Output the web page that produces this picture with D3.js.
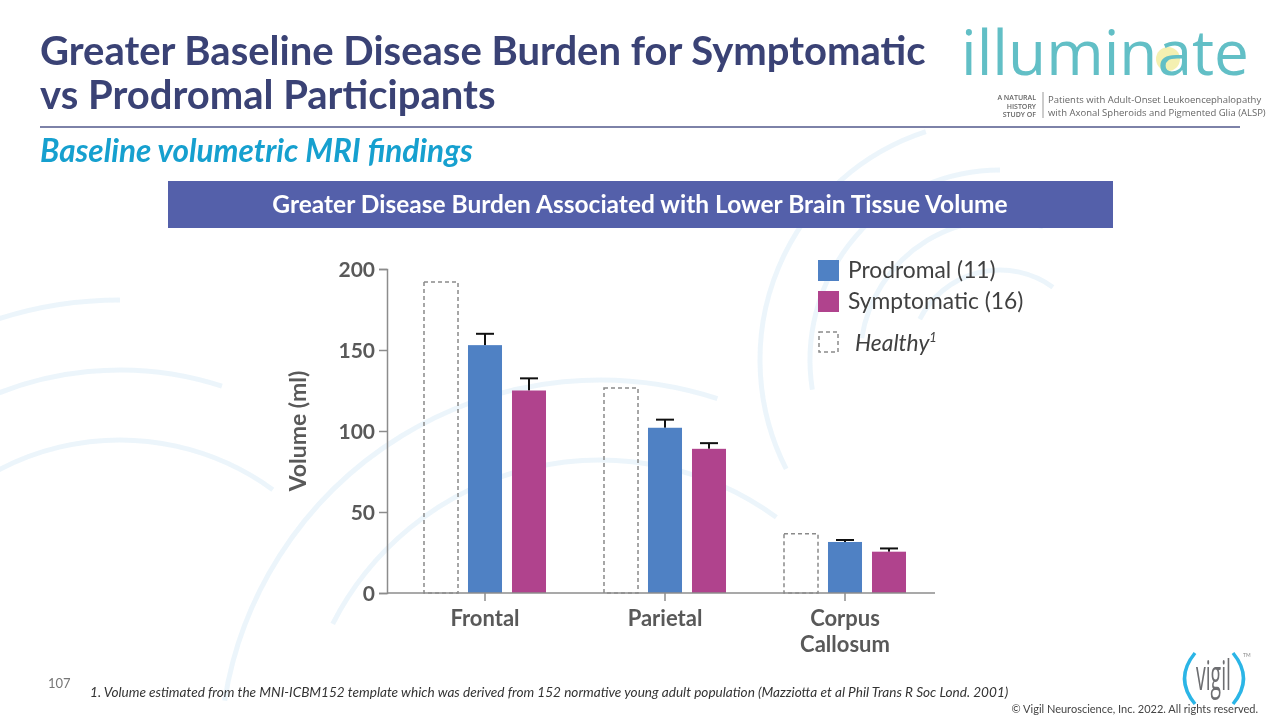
<!DOCTYPE html>
<html>
<head>
<meta charset="utf-8">
<script src="https://cdn.jsdelivr.net/npm/d3@7"></script>
<style>
  html, body { margin: 0; padding: 0; background: #fff; }
  svg { display: block; }
</style>
</head>
<body>
<svg id="chart" width="1280" height="720"></svg>
<script>
// ---------------- DATA ----------------
const categories = ["Frontal", "Parietal", "Corpus Callosum"];
const categoryLines = [["Frontal"], ["Parietal"], ["Corpus", "Callosum"]];
const healthyValues = [192, 126.5, 36.5];
const prodromalValues = [153, 102, 31.5];
const prodromalErrTop = [160, 107, 32.7];
const symptomaticValues = [125, 89, 25.5];
const symptomaticErrTop = [132.5, 92.5, 27.5];
const yTicks = [0, 50, 100, 150, 200];
const seriesKeys = ["Healthy", "Prodromal", "Symptomatic"];
const legendLabels = ["Prodromal (11)", "Symptomatic (16)", "Healthy"];

// ---------------- STYLE ----------------
const blue = "#4f81c4", magenta = "#b0438d", dashGray = "#8a8a8a";
const axisGray = "#8c8c8c", labelGray = "#595959";
const font = "Lato, 'Open Sans', 'Liberation Sans', sans-serif";

const svg = d3.select("#chart");

// faint decorative background arcs
const bg = svg.append("g").attr("fill", "none").attr("stroke", "#e8f3fa").attr("stroke-width", 5).attr("opacity", 0.8);
[[1000, 360, [90, 140, 190, 240]], [120, 700, [260, 330, 400]], [600, 760, [300, 380]]].forEach(([cx, cy, rs]) => {
  rs.forEach((r, i) => {
    const a0 = -Math.PI * (0.35 + 0.1 * i), a1 = a0 + Math.PI * 0.55;
    bg.append("path").attr("transform", `translate(${cx},${cy})`)
      .attr("d", d3.arc()({innerRadius: r, outerRadius: r, startAngle: a0, endAngle: a1}));
  });
});

// ---------------- HEADER ----------------
svg.append("text").attr("x", 40).attr("y", 65).attr("font-family", font).attr("font-weight", 700)
  .attr("font-size", 40).attr("fill", "#3a4275").text("Greater Baseline Disease Burden for Symptomatic");
svg.append("text").attr("x", 40).attr("y", 109).attr("font-family", font).attr("font-weight", 700)
  .attr("font-size", 40).attr("fill", "#3a4275").text("vs Prodromal Participants");
svg.append("line").attr("x1", 40).attr("x2", 1240).attr("y1", 127).attr("y2", 127)
  .attr("stroke", "#7d82a8").attr("stroke-width", 2);
svg.append("text").attr("x", 40).attr("y", 162).attr("font-family", font).attr("font-weight", 700)
  .attr("font-style", "italic").attr("font-size", 31.5).attr("fill", "#16a0cf").text("Baseline volumetric MRI findings");

// banner
svg.append("rect").attr("x", 168).attr("y", 181).attr("width", 945).attr("height", 47).attr("fill", "#5460aa");
svg.append("text").attr("x", 640).attr("y", 213).attr("text-anchor", "middle").attr("font-family", font)
  .attr("font-weight", 700).attr("font-size", 24.5).attr("fill", "#fff")
  .text("Greater Disease Burden Associated with Lower Brain Tissue Volume");

// illuminate logo
const logo = svg.append("g");
logo.append("circle").attr("cx", 1168).attr("cy", 59).attr("r", 12).attr("fill", "#f3eea8").attr("opacity", 0.9);
logo.append("text").attr("x", 961).attr("y", 75).attr("font-family", "'Open Sans', sans-serif").attr("font-weight", 400)
  .attr("font-size", 62).attr("fill", "#62bfc6").attr("textLength", 288).attr("lengthAdjust", "spacingAndGlyphs")
  .text("illuminate");
["A NATURAL", "HISTORY", "STUDY OF"].forEach((t, i) => {
  logo.append("text").attr("x", 1036).attr("y", 100 + i * 8.5).attr("text-anchor", "end")
    .attr("font-family", "'Open Sans', sans-serif").attr("font-weight", 600).attr("font-size", 7).attr("fill", "#666").text(t);
});
logo.append("line").attr("x1", 1043).attr("x2", 1043).attr("y1", 92).attr("y2", 118).attr("stroke", "#999").attr("stroke-width", 1);
["Patients with Adult-Onset Leukoencephalopathy", "with Axonal Spheroids and Pigmented Glia (ALSP)"].forEach((t, i) => {
  logo.append("text").attr("x", 1048).attr("y", 103 + i * 12.5).attr("font-family", "'Open Sans', sans-serif")
    .attr("font-size", 9.5).attr("fill", "#666").text(t);
});

// ---------------- CHART ----------------
const x = d3.scaleBand().domain(categories).range([395, 935]).padding(0);
const inner = d3.scaleBand().domain(seriesKeys).range([0, 132]).paddingInner(0.227).paddingOuter(0.1135);
const y = d3.scaleLinear().domain([0, 200]).range([593, 269]);
const barX = (cat, key) => x(cat) + x.bandwidth() / 2 - 66 + inner(key);
const bw = inner.bandwidth();

// healthy dashed
svg.append("g").selectAll("rect").data(categories).join("rect")
  .attr("x", d => barX(d, "Healthy")).attr("width", bw)
  .attr("y", (d, i) => y(healthyValues[i])).attr("height", (d, i) => y(0) - y(healthyValues[i]))
  .attr("fill", "none").attr("stroke", dashGray).attr("stroke-width", 1.5).attr("stroke-dasharray", "4,3");

function drawSeries(key, vals, errs, color) {
  const g = svg.append("g");
  g.selectAll("line.err").data(categories).join("line").attr("class", "err")
    .attr("x1", d => barX(d, key) + bw / 2).attr("x2", d => barX(d, key) + bw / 2)
    .attr("y1", (d, i) => y(vals[i])).attr("y2", (d, i) => y(errs[i]))
    .attr("stroke", "#111").attr("stroke-width", 2);
  g.selectAll("line.cap").data(categories).join("line").attr("class", "cap")
    .attr("x1", d => barX(d, key) + bw / 2 - 9).attr("x2", d => barX(d, key) + bw / 2 + 9)
    .attr("y1", (d, i) => y(errs[i])).attr("y2", (d, i) => y(errs[i]))
    .attr("stroke", "#111").attr("stroke-width", 2);
  g.selectAll("rect").data(categories).join("rect")
    .attr("x", d => barX(d, key)).attr("width", bw)
    .attr("y", (d, i) => y(vals[i])).attr("height", (d, i) => y(0) - y(vals[i]))
    .attr("fill", color);
}
drawSeries("Prodromal", prodromalValues, prodromalErrTop, blue);
drawSeries("Symptomatic", symptomaticValues, symptomaticErrTop, magenta);

// y axis
const yAxis = svg.append("g").attr("transform", "translate(387,0)")
  .call(d3.axisLeft(y).tickValues(yTicks).tickSize(8).tickPadding(4));
yAxis.select(".domain").attr("stroke", axisGray).attr("stroke-width", 1.5);
yAxis.selectAll(".tick line").attr("stroke", axisGray).attr("stroke-width", 1.5);
yAxis.selectAll(".tick text").attr("font-family", font).attr("font-weight", 700).attr("font-size", 21)
  .attr("fill", labelGray).attr("dy", "0.35em");

// x axis
const xAxis = svg.append("g").attr("transform", "translate(0,593)")
  .call(d3.axisBottom(x).tickSize(8).tickSizeOuter(0).tickFormat(""));
xAxis.select(".domain").attr("stroke", axisGray).attr("stroke-width", 1.5)
  .attr("d", "M387,0H935");
xAxis.selectAll(".tick line").attr("stroke", axisGray).attr("stroke-width", 1.5);
xAxis.selectAll(".tick").each(function(d, i) {
  const t = d3.select(this).append("text").attr("y", 33).attr("text-anchor", "middle")
    .attr("font-family", font).attr("font-weight", 700).attr("font-size", 22).attr("fill", labelGray);
  categoryLines[i].forEach((ln, j) => t.append("tspan").attr("x", 0).attr("dy", j === 0 ? 0 : 26).text(ln));
});

// y label
svg.append("text").attr("transform", "translate(306,431) rotate(-90)").attr("text-anchor", "middle")
  .attr("font-family", font).attr("font-weight", 700).attr("font-size", 23).attr("fill", labelGray).text("Volume (ml)");

// legend
const lg = svg.append("g");
lg.append("rect").attr("x", 818).attr("y", 260).attr("width", 21).attr("height", 21).attr("fill", blue);
lg.append("rect").attr("x", 818).attr("y", 291).attr("width", 21).attr("height", 21).attr("fill", magenta);
lg.append("rect").attr("x", 819).attr("y", 332).attr("width", 19).attr("height", 20).attr("fill", "none")
  .attr("stroke", dashGray).attr("stroke-width", 1.5).attr("stroke-dasharray", "4,3");
lg.append("text").attr("x", 848).attr("y", 278).attr("font-family", font).attr("font-size", 22.8).attr("fill", "#404040").text(legendLabels[0]);
lg.append("text").attr("x", 848).attr("y", 309).attr("font-family", font).attr("font-size", 22.8).attr("fill", "#404040").text(legendLabels[1]);
const ht = lg.append("text").attr("x", 855).attr("y", 351).attr("font-family", font).attr("font-style", "italic")
  .attr("font-size", 22.8).attr("fill", "#404040").text(legendLabels[2]);
ht.append("tspan").attr("font-size", 13).attr("dy", -9).text("1");

// ---------------- FOOTER ----------------
svg.append("text").attr("x", 48).attr("y", 688).attr("font-family", font).attr("font-size", 13).attr("fill", "#777").text("107");
svg.append("text").attr("x", 90).attr("y", 697).attr("font-family", font).attr("font-style", "italic").attr("font-size", 13.6)
  .attr("fill", "#333").text("1. Volume estimated from the MNI-ICBM152 template which was derived from 152 normative young adult population (Mazziotta et al Phil Trans R Soc Lond. 2001)");
svg.append("text").attr("x", 1258).attr("y", 713).attr("text-anchor", "end").attr("font-family", font).attr("font-size", 11)
  .attr("fill", "#444").text("© Vigil Neuroscience, Inc. 2022. All rights reserved.");
// vigil logo
const vg = svg.append("g");
vg.append("path").attr("d", "M1195,653 Q1174,678.5 1195,704").attr("fill", "none").attr("stroke", "#2bb5e6").attr("stroke-width", 3.5);
vg.append("path").attr("d", "M1233,653 Q1254,678.5 1233,704").attr("fill", "none").attr("stroke", "#2bb5e6").attr("stroke-width", 3.5);
const vt = vg.append("text").attr("font-family", "'Open Sans', sans-serif").attr("font-weight", 400)
  .attr("font-size", 42).attr("fill", "#6d6e71").text("vigil");
const vLen = vt.node().getComputedTextLength() || 70;
vt.attr("transform", `translate(1196,690) scale(${35 / vLen},1)`);
vg.append("text").attr("x", 1243).attr("y", 657).attr("font-family", font).attr("font-size", 5).attr("fill", "#888").text("TM");
</script>
</body>
</html>
